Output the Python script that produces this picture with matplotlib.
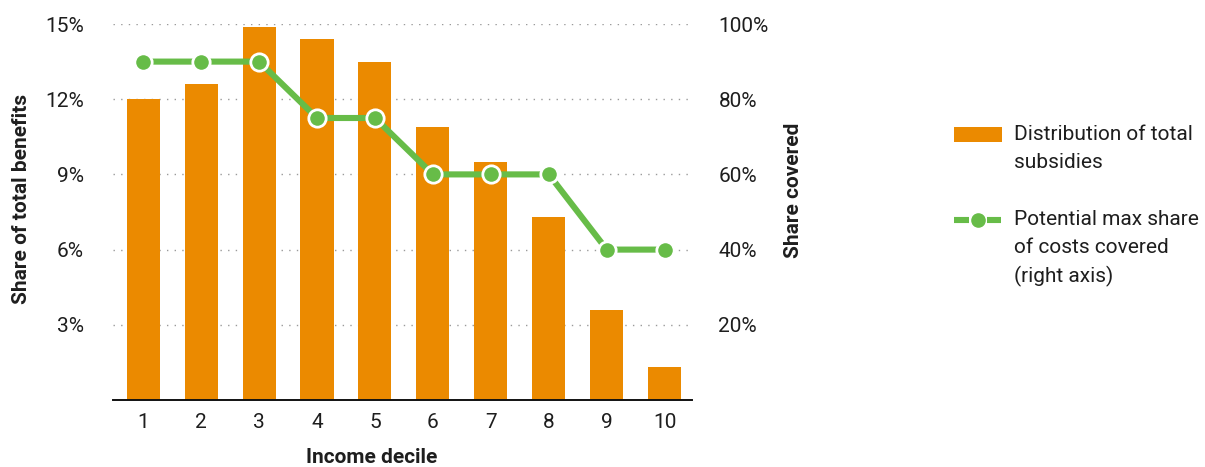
import matplotlib
matplotlib.use("Agg")
import matplotlib.pyplot as plt
from matplotlib.lines import Line2D
from matplotlib.patches import Rectangle
from matplotlib.ticker import FuncFormatter

deciles = [1, 2, 3, 4, 5, 6, 7, 8, 9, 10]
benefit_share = [12.0, 12.6, 14.9, 14.4, 13.5, 10.9, 9.5, 7.3, 3.6, 1.3]
share_covered = [90, 90, 90, 75, 75, 60, 60, 60, 40, 40]
left_ticks = [3, 6, 9, 12, 15]
right_ticks = [20, 40, 60, 80, 100]
legend_labels = ["Distribution of total\nsubsidies",
                 "Potential max share\nof costs covered\n(right axis)"]

ORANGE = "#EB8A00"
GREEN = "#67BC48"
TXT = "#1e1e1e"

plt.rcParams['font.family'] = ['Roboto', 'DejaVu Sans']

W, H = 1205, 467
fig = plt.figure(figsize=(W / 100, H / 100), dpi=100)
ax = fig.add_axes([113 / W, 1 - 400 / H, 579 / W, 376 / H])
ax.bar(deciles, benefit_share, width=0.57, color=ORANGE, zorder=2)
ax.set_xlim(0.48, 10.47)
ax.set_ylim(0, 15)
ax.set_yticks(left_ticks)
ax.yaxis.set_major_formatter(FuncFormatter(lambda v, p: f"{v:.0f}%"))
ax.set_xticks(deciles)
ax.grid(axis='y', color='#9a9a9a', linestyle=(0, (1, 4.5)), linewidth=1.0, zorder=0)
ax.set_axisbelow(True)
for s in ['top', 'left', 'right']:
    ax.spines[s].set_visible(False)
ax.spines['bottom'].set_linewidth(1.4)
ax.spines['bottom'].set_color('#111111')
ax.tick_params(axis='y', length=0, pad=21, labelsize=15, labelcolor=TXT)
ax.tick_params(axis='x', length=0, pad=9, labelsize=15, labelcolor=TXT)
ax.set_xlabel("Income decile", fontsize=15, fontweight='bold', color=TXT)
ax.xaxis.set_label_coords(0.447, -0.128)
ax.set_ylabel("Share of total benefits", fontsize=15, fontweight='bold', color=TXT)
ax.yaxis.set_label_coords(-0.142, 0.535)

ax2 = ax.twinx()
ax2.set_ylim(0, 100)
ax2.set_yticks(right_ticks)
ax2.yaxis.set_major_formatter(FuncFormatter(lambda v, p: f"{v:.0f}%"))
for s in ['top', 'left', 'right', 'bottom']:
    ax2.spines[s].set_visible(False)
ax2.tick_params(axis='y', length=0, pad=19, labelsize=15, labelcolor=TXT)
ax2.plot(deciles, share_covered, color=GREEN, linewidth=4.4, marker='o',
         markersize=12.5, markerfacecolor=GREEN, markeredgecolor='white',
         markeredgewidth=2, zorder=5)
ax2.set_ylabel("Share covered", fontsize=15, fontweight='bold', color=TXT)
ax2.yaxis.set_label_coords(1.159, 0.559)

# legend (drawn by hand so the handle lines up with the first text line)
def fx(px):
    return px / W

def fy(py):
    return 1 - py / H

fig.add_artist(Rectangle((fx(954), fy(142)), fx(1002) - fx(954), fy(127) - fy(142),
                         transform=fig.transFigure, facecolor=ORANGE, edgecolor='none'))
fig.add_artist(Line2D([fx(954), fx(969)], [fy(220), fy(220)], transform=fig.transFigure,
                      color=GREEN, linewidth=4.4, solid_capstyle='butt'))
fig.add_artist(Line2D([fx(987), fx(1001)], [fy(220), fy(220)], transform=fig.transFigure,
                      color=GREEN, linewidth=4.4, solid_capstyle='butt'))
fig.add_artist(Line2D([fx(978)], [fy(220)], transform=fig.transFigure, marker='o',
                      markersize=9.5, markerfacecolor=GREEN, markeredgecolor=GREEN,
                      linestyle='none'))
fig.text(fx(1014), fy(125), legend_labels[0], fontsize=15, color=TXT,
         va='top', ha='left', linespacing=1.58)
fig.text(fx(1014), fy(210), legend_labels[1], fontsize=15, color=TXT,
         va='top', ha='left', linespacing=1.58)

fig.savefig("out.png", dpi=100)
